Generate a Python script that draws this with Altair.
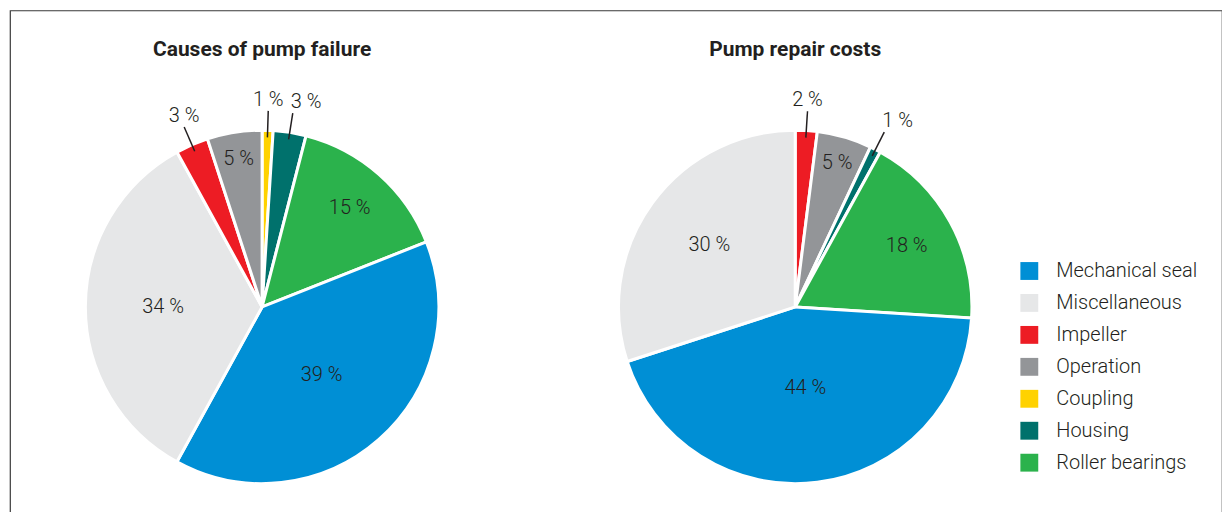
import math
import altair as alt
import pandas as pd

# ---- data ----
categories = ["Mechanical seal", "Miscellaneous", "Impeller", "Operation",
              "Coupling", "Housing", "Roller bearings"]
colors = ["#008fd5", "#e6e7e8", "#ed1c24", "#939598", "#ffd200", "#00716c", "#2bb24c"]
failure_pct = [39, 34, 3, 5, 1, 3, 15]
cost_pct = [44, 30, 2, 5, 0, 1, 18]
# clockwise slice order from 12 o'clock
failure_order = ["Coupling", "Housing", "Roller bearings", "Mechanical seal",
                 "Miscellaneous", "Impeller", "Operation"]
cost_order = ["Impeller", "Operation", "Coupling", "Housing", "Roller bearings",
              "Mechanical seal", "Miscellaneous"]
titles = ["Causes of pump failure", "Pump repair costs"]

# ---- layout / style ----
R = 177
CENTERS = [(252.5, 297), (786.5, 297)]
FONT = "Roboto, 'Liberation Sans', sans-serif"
FS = 20
TXT = "#231f20"
OUTSIDE_BELOW = 5  # slices smaller than this get an outside label


def pie_frame(pcts, order, cx, cy):
    rows = []
    cum = 0.0
    for name in order:
        v = pcts[categories.index(name)]
        if v == 0:
            continue
        mid_deg = (cum + v / 2) * 3.6
        mid = math.radians(mid_deg)
        inside = v >= OUTSIDE_BELOW
        r0, r1 = 0.96 * R, 1.11 * R
        rows.append(dict(
            category=name, pct=v, ord=len(rows),
            label_in=f"{v} %" if inside else "",
            label_out="" if inside else f"{v} %",
            lr=(0.9 - v / 100) * R,
            mid_deg=mid_deg,
            x0=cx + r0 * math.sin(mid), y0=cy - r0 * math.cos(mid),
            x1=cx + r1 * math.sin(mid), y1=cy - r1 * math.cos(mid),
            outside=not inside,
        ))
        cum += v
    df = pd.DataFrame(rows)
    df["ty"] = df["y1"] - 1
    return df


theta_scale = alt.Scale(domain=[0, 100])
order = alt.Order("ord:Q")

layers = []
for i, (pcts, ordr) in enumerate([(failure_pct, failure_order), (cost_pct, cost_order)]):
    cx, cy = CENTERS[i]
    df = pie_frame(pcts, ordr, cx, cy)
    legend = alt.Legend(
        orient="none", legendX=1011, legendY=251, title=None, padding=0,
        symbolType="square", symbolSize=320, symbolStrokeWidth=0,
        labelFont=FONT, labelFontSize=FS, labelFontWeight=300, labelColor=TXT,
        labelOffset=17, rowPadding=12, labelLimit=300,
    ) if i == 0 else None
    arcs = alt.Chart(df).mark_arc(outerRadius=R, stroke="white", strokeWidth=3).encode(
        x=alt.value(cx), y=alt.value(cy),
        theta=alt.Theta("pct:Q", stack=True, scale=theta_scale), order=order,
        color=alt.Color("category:N", scale=alt.Scale(domain=categories, range=colors),
                        legend=legend),
    )
    inner = alt.Chart(df).transform_stack(
        stack="pct", as_=["s0", "s1"], groupby=[], sort=[alt.SortField("ord")]
    ).transform_calculate(smid="(datum.s0 + datum.s1) / 2").mark_text(
        font=FONT, fontSize=FS, fontWeight=300, color=TXT
    ).encode(
        x=alt.value(cx), y=alt.value(cy),
        theta=alt.Theta("smid:Q", stack=False, scale=theta_scale),
        radius=alt.Radius("lr:Q", scale=None), text="label_in:N",
    )
    out_df = df[df["outside"]]
    leaders = alt.Chart(out_df).mark_rule(color=TXT, strokeWidth=1.5).encode(
        x=alt.X("x0:Q", scale=None, axis=None), y=alt.Y("y0:Q", scale=None, axis=None),
        x2="x1:Q", y2="y1:Q",
    )
    side = "datum.mid_deg > 5 && datum.mid_deg < 180"
    outer_c = alt.Chart(out_df).transform_filter(f"!({side})").mark_text(
        font=FONT, fontSize=FS, fontWeight=300, color=TXT, baseline="bottom"
    ).encode(
        x=alt.X("x1:Q", scale=None, axis=None), y=alt.Y("ty:Q", scale=None, axis=None),
        text="label_out:N",
    )
    outer_l = alt.Chart(out_df).transform_filter(side).mark_text(
        font=FONT, fontSize=FS, fontWeight=300, color=TXT, baseline="bottom",
        align="left", dx=-2,
    ).encode(
        x=alt.X("x1:Q", scale=None, axis=None), y=alt.Y("ty:Q", scale=None, axis=None),
        text="label_out:N",
    )
    title = alt.Chart(pd.DataFrame({"t": [titles[i]]})).mark_text(
        font=FONT, fontSize=21, fontWeight="bold", color=TXT, baseline="middle"
    ).encode(x=alt.value(cx), y=alt.value(40), text="t:N")
    layers += [arcs, inner, leaders, outer_c, outer_l, title]

chart = alt.layer(*layers).properties(
    width=1214, height=520,
    padding={"left": 2, "top": 2, "right": 0, "bottom": 0},
).configure_view(stroke="#3a3a3a", strokeWidth=1.2)

chart.save("out.html", embed_options={"renderer": "svg", "actions": False})
